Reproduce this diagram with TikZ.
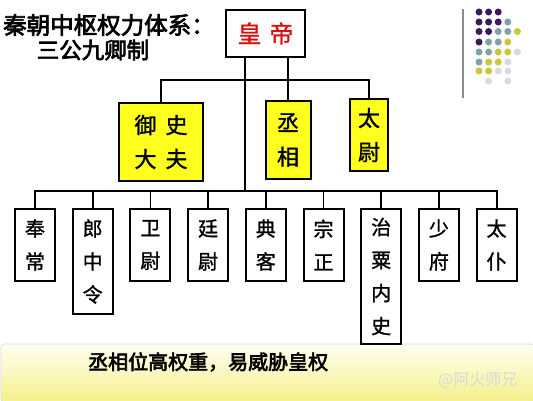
\documentclass[tikz,border=0pt]{standalone}
\usepackage{fontspec}
\newfontfamily\cjk{Noto Sans CJK SC}
\newfontfamily\cjkm{Noto Sans CJK SC}[FakeBold=1.2]
\newfontfamily\cjkb{Noto Sans CJK SC}[FakeBold=3]
\usetikzlibrary{calc}
\definecolor{kbyellow}{HTML}{FFFF1E}
\definecolor{dpurple}{HTML}{3A1A5E}
\definecolor{dteal}{HTML}{7FA3A5}
\definecolor{dlime}{HTML}{C9C83A}
\definecolor{dlav}{HTML}{D9D9E6}
\definecolor{bandtop}{HTML}{FFFFF2}
\definecolor{bandbot}{HTML}{F4F08A}
\definecolor{empred}{HTML}{D81010}
\tikzset{
  box/.style={draw=black, line width=2pt, inner sep=0pt, align=center},
  emperor/.style={box, fill=white, text=empred, font={\cjkm\fontsize{24}{28}\selectfont}},
  gong/.style={box, fill=kbyellow, font={\cjkm\fontsize{22}{34}\selectfont}},
  qing/.style={box, fill=white, minimum width=40pt, font={\cjkm\fontsize{20}{33}\selectfont}},
  conn/.style={line width=1.8pt, line cap=rect},
  titletext/.style={font={\cjkb\fontsize{22.5}{26}\selectfont}, inner sep=0pt},
}
\begin{document}
\begin{tikzpicture}[x=1pt, y=-1pt]
\useasboundingbox (0,0) rectangle (533,400);
\fill[white] (0,0) rectangle (533,400);

% bottom band
\shade[top color=bandtop, bottom color=bandbot, draw=black!15, line width=0.6pt, rounded corners=3pt]
  (1,344) rectangle (534,402);
\node[font={\cjkb\fontsize{20}{24}\selectfont}, anchor=west, inner sep=0pt] (note) at (88,362) {丞相位高权重，易威胁皇权};
\node[font={\cjk\fontsize{16}{20}\selectfont}, text=black!15, anchor=west, inner sep=0pt] (wm) at (438,380) {@阿火师兄};

% title
\node[titletext, font={\cjkb\fontsize{23.5}{26}\selectfont}, anchor=west] (t1) at (3,25) {秦朝中枢权力体系：};
\node[titletext] (t2) at (93,50) {三公九卿制};

% decoration
\draw[black!45, line width=1.5pt] (463,9) -- (463,98);
\foreach \r/\list in {
  12/{1/dpurple,2/dpurple,3/dpurple},
  22/{1/dpurple,2/dpurple,3/dpurple,4/dteal},
  31.5/{1/dpurple,2/dpurple,3/dteal,4/dteal,5/dlime},
  42/{1/dpurple,2/dteal,3/dteal,4/dlime},
  52/{1/dteal,2/dteal,3/dlime,4/dlime,5/dlav},
  62/{1/dteal,2/dlime,3/dlime,4/dlav},
  71/{1/dlime,2/dlime,3/dlav,4/dlav},
  81/{2/dlav,4/dlav}} {
  \foreach \c/\col in \list {
    \fill[\col] ({479+9.6*(\c-1)},\r) circle (3.5pt);
  }
}

% emperor
\node[emperor, minimum width=79pt, minimum height=47pt] (emp) at (265.5,33.5) {皇\hspace{8pt}帝};

% three gong
\node[gong, minimum width=84pt, minimum height=78pt] (ys) at (161,142) {御\hspace{9pt}史\\大\hspace{9pt}夫};
\node[gong, minimum width=45pt, minimum height=78pt] (cx) at (288,140) {丞\\相};
\node[gong, minimum width=38pt, minimum height=72pt] (tw) at (369,135) {太\\尉};

% nine qing
\node[qing, minimum height=72pt, anchor=north] (q1) at (35,208) {奉\\常};
\node[qing, minimum height=105pt, anchor=north] (q2) at (92.7,208) {郎\\中\\令};
\node[qing, minimum height=72pt, anchor=north] (q3) at (150.4,208) {卫\\尉};
\node[qing, minimum height=72pt, anchor=north] (q4) at (208.1,208) {廷\\尉};
\node[qing, minimum height=72pt, anchor=north] (q5) at (265.8,208) {典\\客};
\node[qing, minimum height=72pt, anchor=north] (q6) at (323.5,208) {宗\\正};
\node[qing, minimum height=135pt, anchor=north] (q7) at (381.2,208) {治\\粟\\内\\史};
\node[qing, minimum height=72pt, anchor=north] (q8) at (438.9,208) {少\\府};
\node[qing, minimum height=72pt, anchor=north] (q9) at (496.6,208) {太\\仆};

% connectors
\coordinate (bus1) at (0,80);
\coordinate (bus2) at (245,191);
\draw[conn] (emp.south -| bus2) -- (bus2);
\draw[conn] (emp.south -| cx.north) -- (cx.north);
\draw[conn] (ys.north) -- (ys.north |- bus1) -- (tw.north |- bus1) -- (tw.north);
\draw[conn] (q1.north) -- (q1.north |- bus2) -- (q9.north |- bus2) -- (q9.north);
\foreach \q in {q2,q3,q4,q5,q6,q7,q8} {
  \draw[conn] (\q.north) -- (\q.north |- bus2);
}
\end{tikzpicture}
\end{document}
